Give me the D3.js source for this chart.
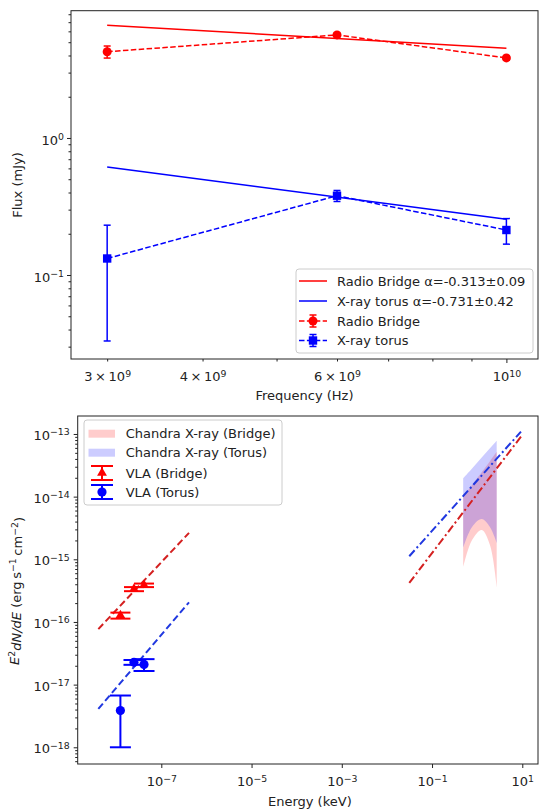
<!DOCTYPE html>
<html>
<head>
<meta charset="utf-8">
<script src="https://cdn.jsdelivr.net/npm/d3@7"></script>
<style>
  body { margin: 0; background: #fff; }
  svg { display: block; font-family: "DejaVu Sans", sans-serif; }
</style>
</head>
<body>
<svg id="fig" width="539" height="810"></svg>
<script>
// ---- top panel: radio flux vs frequency
const freqs = [3e9, 6e9, 1e10];
const bridgeFlux = [4.26, 5.65, 3.84];
const bridgeErr = [0.43, 0.18, 0.15];
const torusFlux = [0.132, 0.379, 0.213];
const torusErr = [0.099, 0.035, 0.045];
const fitFreqs = [3e9, 1e10];
const bridgeFit = [6.65, 4.52];
const torusFit = [0.614, 0.255];
const topLegend = ["Radio Bridge \u03b1=-0.313\u00b10.09", "X-ray torus \u03b1=-0.731\u00b10.42", "Radio Bridge", "X-ray torus"];
const freqTicks = [3e9, 4e9, 6e9, 1e10];
const freqMajor = [1e10];
const freqTickLabels = [["3\u2009\u00d7\u200910", "9"], ["4\u2009\u00d7\u200910", "9"], ["6\u2009\u00d7\u200910", "9"], ["10", "10"]];
const fluxTicks = [0.1, 1];
const fluxTickLabels = [["10", "\u22121"], ["10", "0"]];

// ---- bottom panel: SED
const vlaEnergy = [1.24e-8, 2.48e-8, 4.14e-8];
const vlaBridge = [1.27e-16, 3.35e-16, 3.85e-16];
const vlaBridgeErr = [1.4e-17, 2.5e-17, 2.5e-17];
const vlaTorus = [3.85e-18, 2.27e-17, 2.1e-17];
const vlaTorusErr = [2.85e-18, 2.0e-18, 4.5e-18];
const radioFitEnergy = [4.02e-9, 4.11e-7];
const radioFitBridge = [7.7e-17, 2.64e-15];
const radioFitTorus = [4.1e-18, 2.06e-16];
const xrayFitEnergy = [0.0313, 9.35];
const xrayFitBridge = [4.2e-16, 9.06e-14];
const xrayFitTorus = [1.12e-15, 1.09e-13];
const bandEnergy = [0.49, 0.77, 1.26, 1.92, 2.71];
const bridgeBandHi = [1.0e-14, 1.53e-14, 2.44e-14, 3.68e-14, 5.2e-14];
const bridgeBandLo = [7.5e-16, 2.03e-15, 2.94e-15, 1.69e-15, 3.6e-16];
const torusBandHi = [1.96e-14, 2.81e-14, 4.2e-14, 5.93e-14, 7.8e-14];
const torusBandLo = [1.52e-15, 3.28e-15, 4.4e-15, 3.28e-15, 1.82e-15];
const botLegend = ["Chandra X-ray (Bridge)", "Chandra X-ray (Torus)", "VLA (Bridge)", "VLA (Torus)"];
const energyTicks = [1e-7, 1e-5, 1e-3, 1e-1, 1e1];
const energyTickLabels = [["10", "\u22127"], ["10", "\u22125"], ["10", "\u22123"], ["10", "\u22121"], ["10", "1"]];
const sedTicks = [1e-18, 1e-17, 1e-16, 1e-15, 1e-14, 1e-13];
const sedTickLabels = [["10", "\u221218"], ["10", "\u221217"], ["10", "\u221216"], ["10", "\u221215"], ["10", "\u221214"], ["10", "\u221213"]];

(() => {
  'use strict';

  const svg = d3.select("#fig");
  const ink = "#222";

  function styleAxis(g) {
    g.select(".domain").remove();
    g.selectAll(".tick line").attr("stroke", ink);
    g.selectAll(".tick text").attr("fill", ink).attr("font-size", 13)
      .attr("font-family", '"DejaVu Sans", sans-serif');
  }

  function supLabels(g, labels) {
    g.selectAll(".tick text").each(function (d, i) {
      let t = d3.select(this).text(null);
      t.append("tspan").text(labels[i][0]);
      t.append("tspan").attr("dy", "-0.5em").attr("font-size", "0.72em").text(labels[i][1]);
    });
  }

  // 2..9 x 10^k positions inside a log domain
  function minorTicks(lo, hi) {
    let out = [];
    for (let e = Math.floor(Math.log10(lo)) - 1; e <= Math.ceil(Math.log10(hi)); e++) {
      for (let m = 2; m <= 9; m++) {
        let v = m * Math.pow(10, e);
        if (v >= lo && v <= hi) out.push(v);
      }
    }
    return out;
  }

  function errorBars(g, xs, ys, errs, x, y, color, cap, width) {
    xs.forEach((xv, i) => {
      let cx = x(xv), y1 = y(ys[i] + errs[i]), y0 = y(ys[i] - errs[i]);
      g.append("line").attr("x1", cx).attr("x2", cx).attr("y1", y0).attr("y2", y1)
        .attr("stroke", color).attr("stroke-width", width);
      [y0, y1].forEach(yy => g.append("line").attr("x1", cx - cap).attr("x2", cx + cap)
        .attr("y1", yy).attr("y2", yy).attr("stroke", color).attr("stroke-width", width));
    });
  }

  // ================= TOP PANEL =================
  const T = {left: 71, right: 538, top: 10.7, bottom: 359};
  const xTop = d3.scaleLog().domain([2.69e9, 1.10e10]).range([T.left, T.right]);
  const yTop = d3.scaleLog().domain([0.02438, 8.49]).range([T.bottom, T.top]);
  const gTop = svg.append("g");

  let ax = gTop.append("g").attr("transform", `translate(0,${T.bottom})`)
    .call(d3.axisBottom(xTop).tickValues(freqTicks).tickFormat(() => ""));
  ax.selectAll(".tick line").attr("y2", d => freqMajor.includes(d) ? 4 : 2.5);
  ax.selectAll(".tick text").attr("y", 13);
  styleAxis(ax); supLabels(ax, freqTickLabels);

  ax = gTop.append("g").attr("transform", `translate(0,${T.bottom})`)
    .call(d3.axisBottom(xTop).tickValues(minorTicks(2.69e9, 1.1e10).filter(v => !freqTicks.includes(v)))
      .tickSize(2.5).tickFormat(() => ""));
  styleAxis(ax);

  ax = gTop.append("g").attr("transform", `translate(${T.left},0)`)
    .call(d3.axisLeft(yTop).tickValues(fluxTicks).tickSize(4).tickFormat(() => ""));
  ax.selectAll(".tick text").attr("x", -7).attr("dy", "0.48em");
  styleAxis(ax); supLabels(ax, fluxTickLabels);

  ax = gTop.append("g").attr("transform", `translate(${T.left},0)`)
    .call(d3.axisLeft(yTop).tickValues(minorTicks(0.02438, 8.49)).tickSize(2.5).tickFormat(() => ""));
  styleAxis(ax);

  gTop.append("text").attr("x", (T.left + T.right) / 2).attr("y", 400).attr("text-anchor", "middle")
    .attr("font-size", 13).attr("fill", ink).text("Frequency (Hz)");
  gTop.append("text").attr("transform", "translate(22,185) rotate(-90)").attr("text-anchor", "middle")
    .attr("font-size", 13).attr("fill", ink).text("Flux (mJy)");

  const lineTop = (xs, ys) => d3.line().x(d => xTop(d[0])).y(d => yTop(d[1]))(d3.zip(xs, ys));

  gTop.append("path").attr("d", lineTop(fitFreqs, bridgeFit)).attr("fill", "none")
    .attr("stroke", "red").attr("stroke-width", 1.5);
  gTop.append("path").attr("d", lineTop(fitFreqs, torusFit)).attr("fill", "none")
    .attr("stroke", "blue").attr("stroke-width", 1.5);

  gTop.append("path").attr("d", lineTop(freqs, bridgeFlux)).attr("fill", "none")
    .attr("stroke", "red").attr("stroke-width", 1.5).attr("stroke-dasharray", "5.5,2.4");
  gTop.append("path").attr("d", lineTop(freqs, torusFlux)).attr("fill", "none")
    .attr("stroke", "blue").attr("stroke-width", 1.5).attr("stroke-dasharray", "5.5,2.4");

  errorBars(gTop, freqs, bridgeFlux, bridgeErr, xTop, yTop, "red", 3.5, 1.5);
  errorBars(gTop, freqs, torusFlux, torusErr, xTop, yTop, "blue", 3.5, 1.5);

  freqs.forEach((f, i) => {
    gTop.append("circle").attr("cx", xTop(f)).attr("cy", yTop(bridgeFlux[i])).attr("r", 4.5).attr("fill", "red");
    gTop.append("rect").attr("x", xTop(f) - 4.2).attr("y", yTop(torusFlux[i]) - 4.2)
      .attr("width", 8.4).attr("height", 8.4).attr("fill", "blue");
  });

  gTop.append("rect").attr("x", T.left).attr("y", T.top).attr("width", T.right - T.left)
    .attr("height", T.bottom - T.top).attr("fill", "none").attr("stroke", ink).attr("stroke-width", 1);

  // legend
  let lg = gTop.append("g");
  lg.append("rect").attr("x", 296).attr("y", 269).attr("width", 237).attr("height", 84).attr("rx", 3)
    .attr("fill", "#fff").attr("fill-opacity", 0.8).attr("stroke", "#ccc");
  const topRows = [281, 301, 321, 340.5];
  const topColors = ["red", "blue", "red", "blue"];
  topRows.forEach((ry, i) => {
    let c = topColors[i];
    let l = lg.append("line").attr("x1", 299).attr("x2", 327).attr("y1", ry).attr("y2", ry)
      .attr("stroke", c).attr("stroke-width", 1.5);
    if (i >= 2) {
      l.attr("stroke-dasharray", "5.5,2.4");
      lg.append("line").attr("x1", 313).attr("x2", 313).attr("y1", ry - 6).attr("y2", ry + 6).attr("stroke", c).attr("stroke-width", 1.5);
      [ry - 6, ry + 6].forEach(yy => lg.append("line").attr("x1", 309.5).attr("x2", 316.5).attr("y1", yy).attr("y2", yy).attr("stroke", c).attr("stroke-width", 1.5));
      if (i === 2) lg.append("circle").attr("cx", 313).attr("cy", ry).attr("r", 4.5).attr("fill", c);
      else lg.append("rect").attr("x", 308.8).attr("y", ry - 4.2).attr("width", 8.4).attr("height", 8.4).attr("fill", c);
    }
    lg.append("text").attr("x", 337).attr("y", ry).attr("dy", "0.36em").attr("font-size", 13)
      .attr("fill", ink).text(topLegend[i]);
  });

  // ================= BOTTOM PANEL =================
  const B = {left: 77.7, right: 538, top: 416, bottom: 764};
  const xBot = d3.scaleLog().domain([1.403e-9, 22.3]).range([B.left, B.right]);
  const yBot = d3.scaleLog().domain([5.41e-19, 1.936e-13]).range([B.bottom, B.top]);
  const gBot = svg.append("g");

  ax = gBot.append("g").attr("transform", `translate(0,${B.bottom})`)
    .call(d3.axisBottom(xBot).tickValues(energyTicks).tickSize(4).tickFormat(() => ""));
  ax.selectAll(".tick text").attr("y", 13);
  styleAxis(ax); supLabels(ax, energyTickLabels);

  ax = gBot.append("g").attr("transform", `translate(${B.left},0)`)
    .call(d3.axisLeft(yBot).tickValues(sedTicks).tickSize(4).tickFormat(() => ""));
  ax.selectAll(".tick text").attr("x", -8).attr("dy", "0.42em");
  styleAxis(ax); supLabels(ax, sedTickLabels);

  ax = gBot.append("g").attr("transform", `translate(${B.left},0)`)
    .call(d3.axisLeft(yBot).tickValues(minorTicks(5.41e-19, 1.936e-13)).tickSize(2.5).tickFormat(() => ""));
  styleAxis(ax);

  gBot.append("text").attr("x", (B.left + B.right) / 2 + 2).attr("y", 806).attr("text-anchor", "middle")
    .attr("font-size", 13).attr("fill", ink).text("Energy (keV)");
  let yl = gBot.append("text").attr("transform", "translate(19,591) rotate(-90)").attr("text-anchor", "middle")
    .attr("font-size", 13).attr("fill", ink);
  yl.append("tspan").attr("font-style", "italic").text("E");
  yl.append("tspan").attr("dy", "-0.45em").attr("font-size", "0.72em").text("2");
  yl.append("tspan").attr("dy", "0.45em").attr("font-style", "italic").text("dN/dE");
  yl.append("tspan").text(" (erg\u2009s");
  yl.append("tspan").attr("dy", "-0.45em").attr("font-size", "0.72em").text("\u22121");
  yl.append("tspan").attr("dy", "0.45em").text("\u2009cm");
  yl.append("tspan").attr("dy", "-0.45em").attr("font-size", "0.72em").text("\u22122");
  yl.append("tspan").attr("dy", "0.45em").text(")");

  // X-ray bands
  const band = d3.area().x(d => xBot(d[0])).y0(d => yBot(d[1])).y1(d => yBot(d[2])).curve(d3.curveCatmullRom);
  gBot.append("path").attr("d", band(d3.zip(bandEnergy, bridgeBandLo, bridgeBandHi)))
    .attr("fill", "red").attr("fill-opacity", 0.2);
  gBot.append("path").attr("d", band(d3.zip(bandEnergy, torusBandLo, torusBandHi)))
    .attr("fill", "blue").attr("fill-opacity", 0.2);

  const lineBot = (xs, ys) => d3.line().x(d => xBot(d[0])).y(d => yBot(d[1]))(d3.zip(xs, ys));
  const redLine = "#d42020", blueLine = "#2038e0";

  gBot.append("path").attr("d", lineBot(xrayFitEnergy, xrayFitTorus)).attr("fill", "none")
    .attr("stroke", blueLine).attr("stroke-width", 2).attr("stroke-dasharray", "8,3,2,3");
  gBot.append("path").attr("d", lineBot(xrayFitEnergy, xrayFitBridge)).attr("fill", "none")
    .attr("stroke", redLine).attr("stroke-width", 2).attr("stroke-dasharray", "8,3,2,3");
  gBot.append("path").attr("d", lineBot(radioFitEnergy, radioFitBridge)).attr("fill", "none")
    .attr("stroke", redLine).attr("stroke-width", 2).attr("stroke-dasharray", "7,3.5");
  gBot.append("path").attr("d", lineBot(radioFitEnergy, radioFitTorus)).attr("fill", "none")
    .attr("stroke", blueLine).attr("stroke-width", 2).attr("stroke-dasharray", "7,3.5");

  errorBars(gBot, vlaEnergy, vlaBridge, vlaBridgeErr, xBot, yBot, "red", 10, 2);
  errorBars(gBot, vlaEnergy, vlaTorus, vlaTorusErr, xBot, yBot, "blue", 10.5, 2);

  const tri = d3.symbol(d3.symbolTriangle).size(42);
  vlaEnergy.forEach((e, i) => {
    gBot.append("path").attr("d", tri()).attr("transform", `translate(${xBot(e)},${yBot(vlaBridge[i])})`).attr("fill", "red");
    gBot.append("circle").attr("cx", xBot(e)).attr("cy", yBot(vlaTorus[i])).attr("r", 4.6).attr("fill", "blue");
  });

  gBot.append("rect").attr("x", B.left).attr("y", B.top).attr("width", B.right - B.left)
    .attr("height", B.bottom - B.top).attr("fill", "none").attr("stroke", ink).attr("stroke-width", 1);

  // legend
  lg = gBot.append("g");
  lg.append("rect").attr("x", 84).attr("y", 420).attr("width", 198).attr("height", 85).attr("rx", 3)
    .attr("fill", "#fff").attr("fill-opacity", 0.8).attr("stroke", "#ccc");
  const botRows = [433.7, 452.7, 473, 492];
  const botColors = ["red", "blue", "red", "blue"];
  botRows.forEach((ry, i) => {
    let c = botColors[i];
    if (i < 2) {
      lg.append("rect").attr("x", 88.5).attr("y", ry - 4).attr("width", 26.5).attr("height", 8)
        .attr("fill", c).attr("fill-opacity", 0.2);
    } else {
      lg.append("line").attr("x1", 102).attr("x2", 102).attr("y1", ry - 7).attr("y2", ry + 7).attr("stroke", c).attr("stroke-width", 2);
      [ry - 7, ry + 7].forEach(yy => lg.append("line").attr("x1", 91).attr("x2", 113).attr("y1", yy).attr("y2", yy).attr("stroke", c).attr("stroke-width", 2));
      if (i === 2) lg.append("path").attr("d", tri()).attr("transform", `translate(102,${ry})`).attr("fill", c);
      else lg.append("circle").attr("cx", 102).attr("cy", ry).attr("r", 4.6).attr("fill", c);
    }
    lg.append("text").attr("x", 125.7).attr("y", ry).attr("dy", "0.36em").attr("font-size", 13)
      .attr("fill", ink).text(botLegend[i]);
  });
})();
</script>
</body>
</html>
